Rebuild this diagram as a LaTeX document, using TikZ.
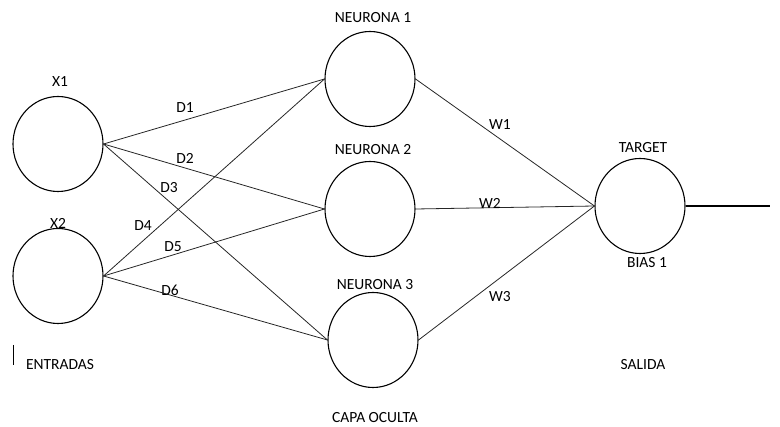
\documentclass[tikz,border=0pt]{standalone}
\usepackage{fontspec}
\setmainfont{Carlito}
\usetikzlibrary{shapes.geometric}
\begin{document}
\begin{tikzpicture}[x=1pt,y=-1pt,
  neuron/.style={ellipse,draw=black,line width=1.1pt,inner sep=0pt,minimum width=90pt,minimum height=95pt},
  lbl/.style={font=\fontsize{15.5}{18}\selectfont,text=black,inner sep=0pt},
  conn/.style={draw=black!85,line width=0.8pt}]
\useasboundingbox (0,0) rectangle (780,427);
\node[neuron] (x1) at (58,144) {};
\node[neuron] (x2) at (58,276) {};
\node[neuron] (n1) at (370,79) {};
\node[neuron] (n2) at (370,209) {};
\node[neuron] (n3) at (373,340) {};
\node[neuron] (t) at (640,206) {};
\coordinate (out) at (770,206);

\path[conn] (x1.east) -- (n1.west);
\path[conn] (x1.east) -- (n2.west);
\path[conn] (x1.east) -- (n3.west);
\path[conn] (x2.east) -- (n1.west);
\path[conn] (x2.east) -- (n2.west);
\path[conn] (x2.east) -- (n3.west);
\path[conn] (n1.east) -- (t.west);
\path[conn] (n2.east) -- (t.west);
\path[conn] (n3.east) -- (t.west);
\path[draw=black,line width=1.1pt] (t.east) -- (out);

\node[lbl] (lx1) at (60,82) {X1};
\node[lbl] (lx2) at (58,223) {X2};
\node[lbl] (ln1) at (373,18) {NEURONA 1};
\node[lbl] (ln2) at (373,150) {NEURONA 2};
\node[lbl] (ln3) at (375,285) {NEURONA 3};
\node[lbl] (lco) at (375,418) {CAPA OCULTA};
\node[lbl] (lt) at (643,148) {TARGET};
\node[lbl] (lb) at (647,263) {BIAS 1};
\node[lbl] (ls) at (643,365) {SALIDA};
\node[lbl] (le) at (60,365) {ENTRADAS};
\node[lbl] (d1) at (185,108) {D1};
\node[lbl] (d2) at (185,158) {D2};
\node[lbl] (d3) at (169,188) {D3};
\node[lbl] (d4) at (143,226) {D4};
\node[lbl] (d5) at (173,247) {D5};
\node[lbl] (d6) at (170,290) {D6};
\node[lbl] (w1) at (500,125) {W1};
\node[lbl] (w2) at (490,203) {W2};
\node[lbl] (w3) at (500,297) {W3};
\coordinate (bara) at (13,345);
\coordinate (barb) at (13,365);
\draw[line width=1pt] (bara) -- (barb);
\end{tikzpicture}
\end{document}
